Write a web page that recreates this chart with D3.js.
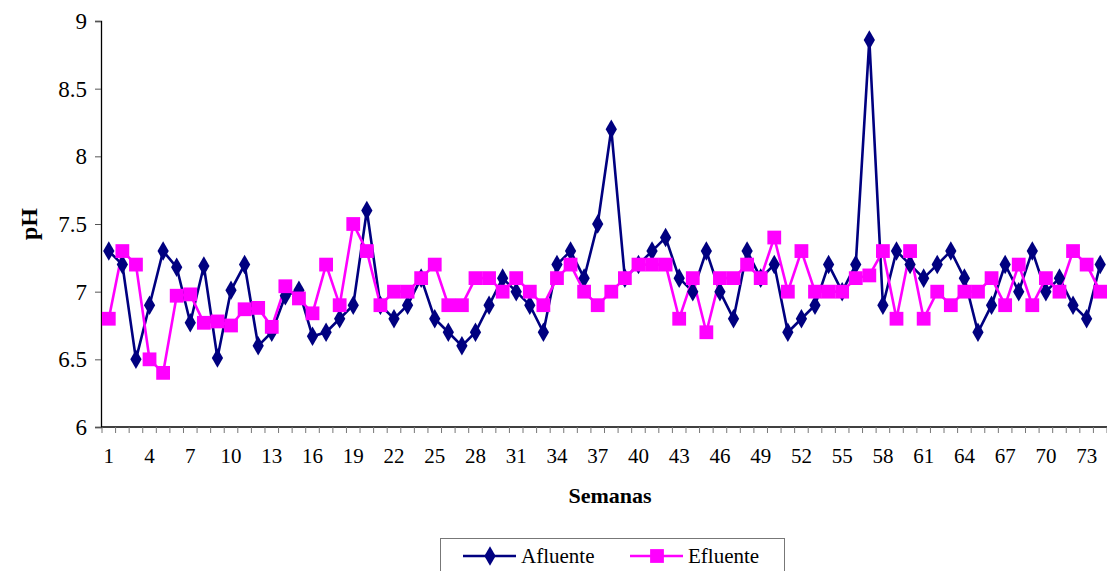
<!DOCTYPE html>
<html>
<head>
<meta charset="utf-8">
<script src="https://cdn.jsdelivr.net/npm/d3@7"></script>
<style>
  body { margin: 0; background: #fff; }
</style>
</head>
<body>
<div id="chart"></div>
<script>
const weeks = d3.range(1, 75);
const afluente = [7.3, 7.2, 6.5, 6.9, 7.3, 7.18, 6.77, 7.19, 6.51, 7.01,
  7.2, 6.6, 6.7, 6.97, 7.01, 6.67, 6.7, 6.8, 6.9, 7.6,
  6.9, 6.8, 6.9, 7.1, 6.8, 6.7, 6.6, 6.7, 6.9, 7.1,
  7.0, 6.9, 6.7, 7.2, 7.3, 7.1, 7.5, 8.2, 7.1, 7.2,
  7.3, 7.4, 7.1, 7.0, 7.3, 7.0, 6.8, 7.3, 7.1, 7.2,
  6.7, 6.8, 6.9, 7.2, 7.0, 7.2, 8.86, 6.9, 7.3, 7.2,
  7.1, 7.2, 7.3, 7.1, 6.7, 6.9, 7.2, 7.0, 7.3, 7.0,
  7.1, 6.9, 6.8, 7.2];
const efluente = [6.8, 7.3, 7.2, 6.5, 6.4, 6.97, 6.98, 6.77, 6.78, 6.75,
  6.87, 6.88, 6.74, 7.04, 6.95, 6.84, 7.2, 6.9, 7.5, 7.3,
  6.9, 7.0, 7.0, 7.1, 7.2, 6.9, 6.9, 7.1, 7.1, 7.0,
  7.1, 7.0, 6.9, 7.1, 7.2, 7.0, 6.9, 7.0, 7.1, 7.2,
  7.2, 7.2, 6.8, 7.1, 6.7, 7.1, 7.1, 7.2, 7.1, 7.4,
  7.0, 7.3, 7.0, 7.0, 7.0, 7.1, 7.12, 7.3, 6.8, 7.3,
  6.8, 7.0, 6.9, 7.0, 7.0, 7.1, 6.9, 7.2, 6.9, 7.1,
  7.0, 7.3, 7.2, 7.0];
const yTicks = [6, 6.5, 7, 7.5, 8, 8.5, 9];
const xTickLabels = weeks.filter((d) => (d - 1) % 3 === 0);

const FONT = `Liberation Serif, Times New Roman, DejaVu Serif, serif`;
const width = 1107;
const height = 571;
const margin = { top: 21, right: 0, bottom: 144, left: 102 };

const svg = d3.select(`#chart`).append(`svg`)
  .attr(`width`, width)
  .attr(`height`, height)
  .attr(`font-family`, FONT)
  .style(`display`, `block`);

const x = d3.scaleBand()
  .domain(weeks)
  .range([margin.left, width - margin.right]);

const y = d3.scaleLinear()
  .domain([6, 9])
  .range([height - margin.bottom, margin.top]);

// y axis
const yAxis = svg.append(`g`)
  .attr(`transform`, `translate(${margin.left - 1},0)`)
  .call(d3.axisLeft(y).tickValues(yTicks).tickSize(6).tickPadding(8).tickFormat(d3.format(`~g`)));
yAxis.attr(`font-family`, FONT);
yAxis.select(`.domain`).attr(`stroke`, `#000`).attr(`stroke-width`, 1.3);
yAxis.selectAll(`.tick line`).attr(`stroke`, `#555`);
yAxis.selectAll(`text`).attr(`font-size`, 23).attr(`fill`, `#000`).attr(`font-family`, FONT);

// x axis: a tick at each category boundary, labels every third week
const xAxisG = svg.append(`g`)
  .attr(`transform`, `translate(0,${height - margin.bottom})`);
xAxisG.append(`line`)
  .attr(`x1`, margin.left - 1).attr(`x2`, width)
  .attr(`stroke`, `#000`).attr(`stroke-width`, 1.3);
xAxisG.selectAll(`line.tick`)
  .data(weeks.concat([null]))
  .enter().append(`line`)
    .attr(`class`, `tick`)
    .attr(`x1`, (d) => d === null ? x(74) + x.bandwidth() : x(d))
    .attr(`x2`, (d) => d === null ? x(74) + x.bandwidth() : x(d))
    .attr(`y1`, 0).attr(`y2`, 6)
    .attr(`stroke`, `#777`);
xAxisG.selectAll(`text`)
  .data(xTickLabels)
  .enter().append(`text`)
    .attr(`x`, (d) => x(d) + x.bandwidth() / 2)
    .attr(`y`, 36)
    .attr(`text-anchor`, `middle`)
    .attr(`font-size`, 21)
    .attr(`font-family`, FONT)
    .text((d) => d);

// axis titles
svg.append(`text`)
  .attr(`x`, 610).attr(`y`, 503)
  .attr(`text-anchor`, `middle`)
  .attr(`font-size`, 22).attr(`font-weight`, `bold`)
  .attr(`font-family`, FONT)
  .text(`Semanas`);
svg.append(`text`)
  .attr(`transform`, `translate(37,224) rotate(-90)`)
  .attr(`text-anchor`, `middle`)
  .attr(`font-size`, 24).attr(`font-weight`, `bold`)
  .attr(`font-family`, FONT)
  .text(`pH`);

const cx = (i) => x(weeks[i]) + x.bandwidth() / 2;
const line = d3.line().x((d, i) => cx(i)).y((d) => y(d));

const plot = svg.append(`g`);

const series = [
  { name: `Afluente`, values: afluente, color: `#000080`, symbol: d3.symbolDiamond, size: 110 },
  { name: `Efluente`, values: efluente, color: `#ff00ff`, symbol: d3.symbolSquare, size: 190 }
];

series.forEach((s) => {
  plot.append(`path`)
    .datum(s.values)
    .attr(`fill`, `none`)
    .attr(`stroke`, s.color)
    .attr(`stroke-width`, 2.6)
    .attr(`d`, line);
});
series.forEach((s) => {
  plot.selectAll(null)
    .data(s.values)
    .enter().append(`path`)
      .attr(`transform`, (d, i) => `translate(${cx(i)},${y(d)})`)
      .attr(`d`, d3.symbol().type(s.symbol).size(s.size))
      .attr(`fill`, s.color);
});

// legend
const legend = svg.append(`g`);
legend.append(`rect`)
  .attr(`x`, 440.5).attr(`y`, 538.5)
  .attr(`width`, 344).attr(`height`, 40)
  .attr(`fill`, `#fff`).attr(`stroke`, `#777`);
const legendX = [463, 630];
series.forEach((s, i) => {
  const g = legend.append(`g`).attr(`transform`, `translate(${legendX[i]},556)`);
  g.append(`line`).attr(`x1`, 0).attr(`x2`, 53).attr(`stroke`, s.color).attr(`stroke-width`, 2.6);
  g.append(`path`)
    .attr(`transform`, `translate(27,0)`)
    .attr(`d`, d3.symbol().type(s.symbol).size(s.size))
    .attr(`fill`, s.color);
  g.append(`text`)
    .attr(`x`, 58).attr(`y`, 7)
    .attr(`font-size`, 21)
    .attr(`font-family`, FONT)
    .text(s.name);
});
</script>
</body>
</html>
